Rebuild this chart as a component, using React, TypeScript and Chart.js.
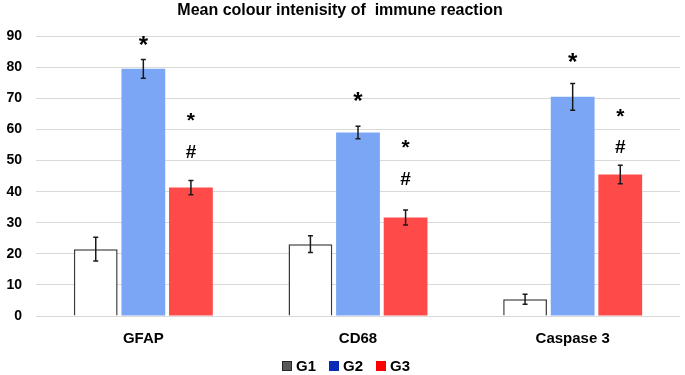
import React, { useEffect, useRef } from "react";
import { Chart, registerables } from "chart.js";

Chart.register(...registerables);

const categories = ["GFAP", "CD68", "Caspase 3"];
const seriesNames = ["G1", "G2", "G3"];
const g1Values = [21.5, 23.1, 5.4];
const g2Values = [79.5, 59.0, 70.5];
const g3Values = [41.3, 31.7, 45.5];
const g1Errors = [3.8, 2.7, 1.6];
const g2Errors = [3.0, 2.0, 4.3];
const g3Errors = [2.3, 2.4, 3.0];
// significance marks and the value level at which each is placed
const g2StarLevels = [87.4, 69.2, 82.0];
const g3StarLevels = [63.4, 54.5, 64.7];
const g3HashLevels = [52.9, 44.2, 54.5];
const yTicks = [0, 10, 20, 30, 40, 50, 60, 70, 80, 90];

const barFill = ["#ffffff", "rgba(122,166,245,1)", "rgba(255,74,74,1)"];
const barBorder = ["#3a3a3a", "rgba(122,166,245,1)", "rgba(255,74,74,1)"];
const legendFill = ["#595959", "#0a2bb8", "#ff0000"];
const legendBorder = ["#262626", "#0a2bb8", "#ff0000"];

const errors = [g1Errors, g2Errors, g3Errors];
const FONT = "'Liberation Sans'";

const overlayPlugin = {
  id: "overlay",
  afterDatasetsDraw(chart: any) {
    const ctx = chart.ctx;
    const y = chart.scales.y;
    ctx.save();
    chart.data.datasets.forEach((ds: any, di: number) => {
      const meta = chart.getDatasetMeta(di);
      meta.data.forEach((el: any, i: number) => {
        const v = ds.data[i];
        const e = errors[di][i];
        const top = y.getPixelForValue(v + e);
        const bot = y.getPixelForValue(v - e);
        ctx.strokeStyle = "#1a1a1a";
        ctx.lineWidth = 1.5;
        ctx.beginPath();
        ctx.moveTo(el.x, top);
        ctx.lineTo(el.x, bot);
        ctx.moveTo(el.x - 2.5, top);
        ctx.lineTo(el.x + 2.5, top);
        ctx.moveTo(el.x - 2.5, bot);
        ctx.lineTo(el.x + 2.5, bot);
        ctx.stroke();
        ctx.fillStyle = "#000";
        ctx.textAlign = "center";
        ctx.textBaseline = "middle";
        if (di === 1) {
          ctx.font = `bold 24px ${FONT}`;
          ctx.fillText("*", el.x, y.getPixelForValue(g2StarLevels[i]) + 2);
        }
        if (di === 2) {
          ctx.font = `bold 21px ${FONT}`;
          ctx.fillText("*", el.x, y.getPixelForValue(g3StarLevels[i]) + 2);
          ctx.font = `bold 19px ${FONT}`;
          ctx.fillText("#", el.x, y.getPixelForValue(g3HashLevels[i]) + 1);
        }
      });
    });
    ctx.restore();
  },
  afterDraw(chart: any) {
    const ctx = chart.ctx;
    ctx.save();
    ctx.font = `bold 15px ${FONT}`;
    ctx.textBaseline = "middle";
    ctx.textAlign = "left";
    const box = 10;
    const gap = 4;
    const spacing = 13;
    const widths = seriesNames.map((n) => box + gap + ctx.measureText(n).width);
    const total = widths.reduce((a, b) => a + b, 0) + spacing * (widths.length - 1);
    let x = 346 - total / 2;
    const yc = 366;
    seriesNames.forEach((n, i) => {
      ctx.fillStyle = legendFill[i];
      ctx.strokeStyle = legendBorder[i];
      ctx.lineWidth = 1;
      ctx.fillRect(x, yc - box / 2, box, box);
      ctx.strokeRect(x + 0.5, yc - box / 2 + 0.5, box - 1, box - 1);
      ctx.fillStyle = "#000";
      ctx.fillText(n, x + box + gap, yc + 1);
      x += widths[i] + spacing;
    });
    ctx.restore();
  },
};

export default function App() {
  const ref = useRef<HTMLCanvasElement>(null);
  useEffect(() => {
    document.body.style.margin = "0";
    const chart = new Chart(ref.current!, {
      type: "bar",
      data: {
        labels: categories,
        datasets: [g1Values, g2Values, g3Values].map((d, i) => ({
          label: seriesNames[i],
          data: d,
          backgroundColor: barFill[i],
          borderColor: barBorder[i],
          borderWidth: i === 0 ? 1.5 : 0,
          categoryPercentage: 0.665,
          barPercentage: 0.92,
        })),
      },
      options: {
        animation: false,
        responsive: false,
        layout: { padding: { left: 0, right: 5, top: 0, bottom: 23 } },
        plugins: {
          title: {
            display: true,
            text: "Mean colour intenisity of  immune reaction",
            color: "#000",
            font: { family: FONT, size: 16, weight: "bold" },
            padding: { top: 1, bottom: 16 },
          },
          legend: { display: false },
          tooltip: { enabled: false },
        },
        scales: {
          x: {
            grid: { display: false },
            border: { display: false },
            afterFit: (s: any) => {
              s.height = 36;
            },
            ticks: {
              color: "#000",
              font: { family: FONT, size: 15, weight: "bold" },
              padding: 6,
            },
          },
          y: {
            min: 0,
            max: 90,
            afterBuildTicks: (s: any) => {
              s.ticks = yTicks.map((v) => ({ value: v }));
            },
            afterFit: (s: any) => {
              s.width = 36;
            },
            grid: { color: "#d9d9d9", drawTicks: false },
            border: { display: false },
            ticks: {
              color: "#000",
              font: { family: FONT, size: 14, weight: "bold" },
              padding: 14,
            },
          },
        },
      },
      plugins: [overlayPlugin],
    });
    return () => chart.destroy();
  }, []);
  return (
    <div style={{ width: 685, height: 375, background: "#fff" }}>
      <canvas ref={ref} width={685} height={375} />
    </div>
  );
}
